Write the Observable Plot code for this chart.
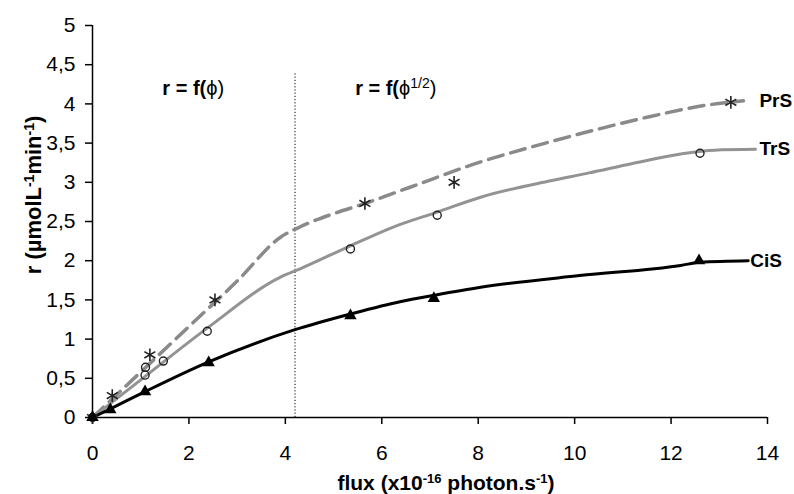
<!DOCTYPE html>
<html><head><meta charset="utf-8">
<script src="https://cdn.jsdelivr.net/npm/d3@7"></script>
<script src="https://cdn.jsdelivr.net/npm/@observablehq/plot@0.6"></script>
<style>
body{margin:0;background:#fff;}
#chart svg{display:block;}
</style>
</head><body><div id="chart"></div>
<script>
// ---- data ----
const xTicks = [0, 2, 4, 6, 8, 10, 12, 14];
const yTicks = [0, 0.5, 1, 1.5, 2, 2.5, 3, 3.5, 4, 4.5, 5];

// fitted curves
const prsLineX = [0, 1, 2, 3, 3.9, 4.3, 5, 5.65, 6.6, 8.05, 9.1, 10.5, 11.5, 12.8, 13.5];
const prsLineY = [0, 0.58, 1.16, 1.74, 2.30, 2.43, 2.60, 2.73, 2.94, 3.26, 3.45, 3.68, 3.83, 3.99, 4.04];
const trsLineX = [0, 1, 2.38, 3.9, 4.32, 5.35, 6.2, 7.15, 8.05, 9.5, 10.3, 11.2, 12.2, 12.9, 13.75];
const trsLineY = [0, 0.48, 1.14, 1.79, 1.90, 2.19, 2.42, 2.62, 2.81, 3.02, 3.12, 3.24, 3.36, 3.41, 3.42];
const cisLineX = [0, 0.37, 1.09, 2.41, 4.2, 5.35, 6.4, 7.1, 8.05, 10.1, 12.2, 12.6, 13.6];
const cisLineY = [0, 0.11, 0.33, 0.71, 1.12, 1.32, 1.48, 1.56, 1.66, 1.81, 1.94, 1.98, 2.0];

// measured points
const prsX = [0, 0.41, 1.19, 2.54, 5.65, 7.5, 13.24];
const prsY = [0, 0.28, 0.80, 1.50, 2.73, 3.00, 4.02];
const trsX = [0, 1.09, 1.10, 1.47, 2.38, 5.35, 7.15, 12.6];
const trsY = [0, 0.54, 0.64, 0.72, 1.10, 2.15, 2.58, 3.37];
const cisX = [0, 0.37, 1.09, 2.41, 5.35, 7.08, 12.58];
const cisY = [0, 0.10, 0.33, 0.70, 1.30, 1.52, 2.00];

const seriesNames = ["PrS", "TrS", "CiS"];
const regimeBoundary = 4.2;
const regimeTop = 4.4;
const regimeLabelX = [2.1, 6.3];
const regimeLabelY = 4.2;

const zip = (xs, ys) => xs.map((x, i) => ({x, y: ys[i]}));
const prsLine = zip(prsLineX, prsLineY), trsLine = zip(trsLineX, trsLineY), cisLine = zip(cisLineX, cisLineY);
const prsPts = zip(prsX, prsY), trsPts = zip(trsX, trsY), cisPts = zip(cisX, cisY);
const fmt = d => String(d).replace(".", ",");
const FONT = "'Liberation Sans', Arial, sans-serif";

const W = 794, H = 494;
const plot = Plot.plot({
  width: W, height: H,
  marginLeft: 92, marginRight: 27, marginTop: 25, marginBottom: 77,
  style: {fontFamily: FONT, fontSize: "21px", background: "#fff", color: "#000"},
  x: {domain: [0, 14], label: null},
  y: {domain: [0, 5], label: null},
  marks: [
    Plot.axisX({ticks: xTicks, tickSize: 7, tickPadding: 21, tickFormat: fmt, label: null, stroke: "#000", strokeWidth: 1.5, fontSize: 21}),
    Plot.axisY({ticks: yTicks, tickSize: 7, tickPadding: 10, tickFormat: fmt, label: null, stroke: "#000", strokeWidth: 1.5, fontSize: 21}),
    Plot.ruleX([0], {y1: 0, y2: 5, stroke: "#000", strokeWidth: 1.5}),
    Plot.ruleY([0], {x1: 0, x2: 14, stroke: "#000", strokeWidth: 1.5}),
    Plot.ruleX([regimeBoundary], {y1: 0, y2: regimeTop, stroke: "#000", strokeWidth: 1, strokeDasharray: "1.2,2"}),
    Plot.line(prsLine, {x: "x", y: "y", stroke: "#8a8a8a", strokeWidth: 3.5, strokeDasharray: "15,8", curve: "monotone-x"}),
    Plot.line(trsLine, {x: "x", y: "y", stroke: "#939393", strokeWidth: 3, curve: "monotone-x"}),
    Plot.line(cisLine, {x: "x", y: "y", stroke: "#000", strokeWidth: 3, curve: "monotone-x"}),
    Plot.dot(prsPts, {x: "x", y: "y", symbol: "asterisk", r: 6, stroke: "#222", strokeWidth: 1.6}),
    Plot.dot(trsPts, {x: "x", y: "y", symbol: "circle", r: 4, stroke: "#222", strokeWidth: 1.4, fill: "none"}),
    Plot.dot(cisPts, {x: "x", y: "y", symbol: "triangle", r: 4.6, fill: "#000", stroke: "none"}),
    Plot.text([prsLine[prsLine.length - 1]], {x: "x", y: "y", text: () => seriesNames[0], textAnchor: "start", dx: 16, fontWeight: "bold", fontSize: 19}),
    Plot.text([trsLine[trsLine.length - 1]], {x: "x", y: "y", text: () => seriesNames[1], textAnchor: "start", dx: 4, fontWeight: "bold", fontSize: 19}),
    Plot.text([cisLine[cisLine.length - 1]], {x: "x", y: "y", text: () => seriesNames[2], textAnchor: "start", dx: 2, fontWeight: "bold", fontSize: 19})
  ]
});
document.getElementById("chart").appendChild(plot);

// rich text (superscripts) added as real SVG text
const svg = d3.select(plot);
const xs = plot.scale("x"), ys = plot.scale("y");
function rich(x, y, parts, opts = {}) {
  const t = svg.append("text")
    .attr("x", x).attr("y", y)
    .attr("text-anchor", opts.anchor || "middle")
    .attr("font-family", FONT)
    .attr("font-size", opts.size || 21)
    .attr("font-weight", "bold")
    .attr("fill", "#000");
  if (opts.rotate) t.attr("transform", `rotate(-90 ${x} ${y})`);
  let shifted = false;
  const sh = opts.shift || 7;
  for (const p of parts) {
    const ts = t.append("tspan").text(p.t);
    if (p.sup) { ts.attr("font-size", opts.supSize || 13).attr("dy", shifted ? 0 : -sh); shifted = true; }
    else { if (shifted) ts.attr("dy", sh); shifted = false; }
    if (p.w) ts.attr("font-weight", p.w);
  }
  return t;
}
rich(446, 490, [{t: "flux (x10"}, {t: "-16", sup: true}, {t: " photon.s"}, {t: "-1", sup: true}, {t: ")"}]);
rich(41, 195, [{t: "r (µmolL"}, {t: "-1", sup: true}, {t: "min"}, {t: "-1", sup: true}, {t: ")"}], {rotate: true, size: 22, supSize: 14});
rich(xs.apply(regimeLabelX[0]), ys.apply(regimeLabelY) + 7, [{t: "r = f("}, {t: "ϕ", w: "normal"}, {t: ")", w: "normal"}], {size: 20});
rich(xs.apply(regimeLabelX[1]), ys.apply(regimeLabelY) + 7, [{t: "r = f("}, {t: "ϕ", w: "normal"}, {t: "1/2", sup: true, w: "normal"}, {t: ")", w: "normal"}], {size: 20, supSize: 14});
</script>
</body></html>
